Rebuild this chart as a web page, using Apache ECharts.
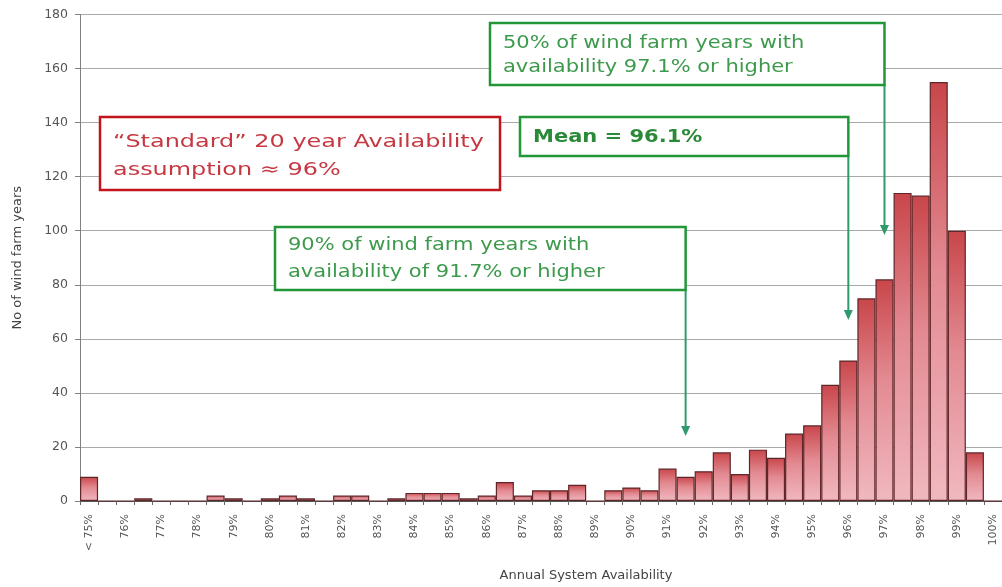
<!DOCTYPE html>
<html>
<head>
<meta charset="utf-8">
<script src="https://cdn.jsdelivr.net/npm/echarts@6/dist/echarts.min.js"></script>
<style>
  html, body { margin: 0; padding: 0; background: #fff; }
  #chart { width: 1002px; height: 587px; }
</style>
</head>
<body>
<div id="chart"></div>
<script>
// Half-percent availability bins (every second label is shown on the axis)
const categories = [
  '< 75%', '75.5%', '76%', '76.5%', '77%', '77.5%', '78%', '78.5%', '79%', '79.5%',
  '80%', '80.5%', '81%', '81.5%', '82%', '82.5%', '83%', '83.5%', '84%', '84.5%',
  '85%', '85.5%', '86%', '86.5%', '87%', '87.5%', '88%', '88.5%', '89%', '89.5%',
  '90%', '90.5%', '91%', '91.5%', '92%', '92.5%', '93%', '93.5%', '94%', '94.5%',
  '95%', '95.5%', '96%', '96.5%', '97%', '97.5%', '98%', '98.5%', '99%', '99.5%',
  '100%'
];

// Number of wind farm years falling in each bin
const farmYears = [
  9, 0, 0, 1, 0, 0, 0, 2, 1, 0,
  1, 2, 1, 0, 2, 2, 0, 1, 3, 3,
  3, 1, 2, 7, 2, 4, 4, 6, 0, 4,
  5, 4, 12, 9, 11, 18, 10, 19, 16, 25,
  28, 43, 52, 75, 82, 114, 113, 155, 100, 18,
  0
];

const yTicks = { min: 0, max: 180, interval: 20 };

// Summary statistics called out on the chart
const p90Availability = 91.7;
const meanAvailability = 96.1;
const medianAvailability = 97.1;
const standardAssumption = 96;

const chart = echarts.init(document.getElementById('chart'), null, { renderer: 'canvas' });

const axisFont = 'DejaVu Sans';

chart.setOption({
  animation: false,
  backgroundColor: '#ffffff',
  grid: { left: 80, top: 14.5, width: 924, height: 488 },
  xAxis: {
    type: 'category',
    data: categories,
    boundaryGap: true,
    name: 'Annual System Availability',
    nameLocation: 'middle',
    nameGap: 68,
    nameTextStyle: { fontFamily: axisFont, fontSize: 13, color: '#444', padding: [0, 0, 0, 90] },
    axisLine: { lineStyle: { color: '#555', width: 1 } },
    axisTick: { show: true, interval: 0, length: 4, lineStyle: { color: '#666' } },
    axisLabel: {
      interval: 1,
      rotate: 90,
      margin: 13,
      fontFamily: axisFont,
      fontSize: 11,
      color: '#555'
    },
    splitLine: { show: false }
  },
  yAxis: {
    type: 'value',
    min: yTicks.min,
    max: yTicks.max,
    interval: yTicks.interval,
    name: 'No of wind farm years',
    nameLocation: 'middle',
    nameGap: 56,
    nameRotate: 90,
    nameTextStyle: { fontFamily: axisFont, fontSize: 13, color: '#444' },
    axisLine: { show: true, lineStyle: { color: '#808080', width: 1 } },
    axisTick: { show: true, length: 5, lineStyle: { color: '#808080' } },
    axisLabel: { fontFamily: axisFont, fontSize: 12.5, color: '#555', margin: 12 },
    splitLine: { show: true, lineStyle: { color: '#a9a9a9', width: 1 } }
  },
  series: [{
    type: 'bar',
    data: farmYears,
    barCategoryGap: '0%',
    barGap: '0%',
    itemStyle: {
      color: new echarts.graphic.LinearGradient(0, 0, 0, 1, [
        { offset: 0, color: '#c8464a' },
        { offset: 0.45, color: '#e38a92' },
        { offset: 1, color: '#f1b8c0' }
      ]),
      borderColor: '#5e2628',
      borderWidth: 1.2
    },
    z: 2
  }]
});

// Pixel centre of the bin that contains a given availability value
function binX(value) {
  const idx = Math.max(0, Math.floor((value - 75) / 0.5));
  return chart.convertToPixel({ xAxisIndex: 0 }, categories[idx]);
}

const boxGreen = '#22973a';
const arrowGreen = '#2f9a6c';
const textGreen = '#3d9a4c';
const boxRed = '#c1141d';
const textRed = '#c63841';

function textEl(str, x, y, color, size, weight, sx) {
  return {
    type: 'text', x: x, y: y, scaleX: sx, z: 110,
    style: {
      text: str, fill: color, fontFamily: axisFont, fontSize: size,
      fontWeight: weight, align: 'left', verticalAlign: 'middle'
    }
  };
}

function boxEl(x0, y0, x1, y1, color) {
  return {
    type: 'rect', z: 105,
    shape: { x: x0, y: y0, width: x1 - x0, height: y1 - y0 },
    style: { fill: '#ffffff', stroke: color, lineWidth: 2.5 }
  };
}

function arrowEls(x, yFrom, yTip) {
  return [
    {
      type: 'line', z: 104,
      shape: { x1: x, y1: yFrom, x2: x, y2: yTip - 8 },
      style: { stroke: arrowGreen, lineWidth: 2 }
    },
    {
      type: 'polygon', z: 104,
      shape: { points: [[x - 4.5, yTip - 10], [x + 4.5, yTip - 10], [x, yTip]] },
      style: { fill: arrowGreen }
    }
  ];
}

const xP90 = binX(p90Availability);
const xMean = binX(meanAvailability);
const xMedian = binX(medianAvailability);

const elements = [].concat(
  // "Standard" assumption box
  [boxEl(100, 117, 500, 190, boxRed),
   textEl('\u201CStandard\u201D 20 year Availability', 113, 142, textRed, 18, 'normal', 1.33),
   textEl('assumption \u2248 ' + standardAssumption + '%', 113, 170, textRed, 18, 'normal', 1.33)],
  // 90th percentile box and arrow
  arrowEls(xP90, 290, 436),
  [boxEl(275, 227, xP90, 290, boxGreen),
   textEl('90% of wind farm years with', 288, 245, textGreen, 17.5, 'normal', 1.2),
   textEl('availability of ' + p90Availability + '% or higher', 288, 272, textGreen, 17.5, 'normal', 1.2)],
  // Mean box and arrow
  arrowEls(xMean, 156, 320),
  [boxEl(520, 117, xMean, 156, boxGreen),
   textEl('Mean = ' + meanAvailability + '%', 533, 137, '#2b8a38', 17.5, 'bold', 1.2)],
  // Median box and arrow
  arrowEls(xMedian, 85, 235),
  [boxEl(490, 23, xMedian, 85, boxGreen),
   textEl('50% of wind farm years with', 503, 43, textGreen, 17.5, 'normal', 1.2),
   textEl('availability ' + medianAvailability + '% or higher', 503, 67, textGreen, 17.5, 'normal', 1.2)]
);

chart.setOption({ graphic: { elements: elements } });
</script>
</body>
</html>
